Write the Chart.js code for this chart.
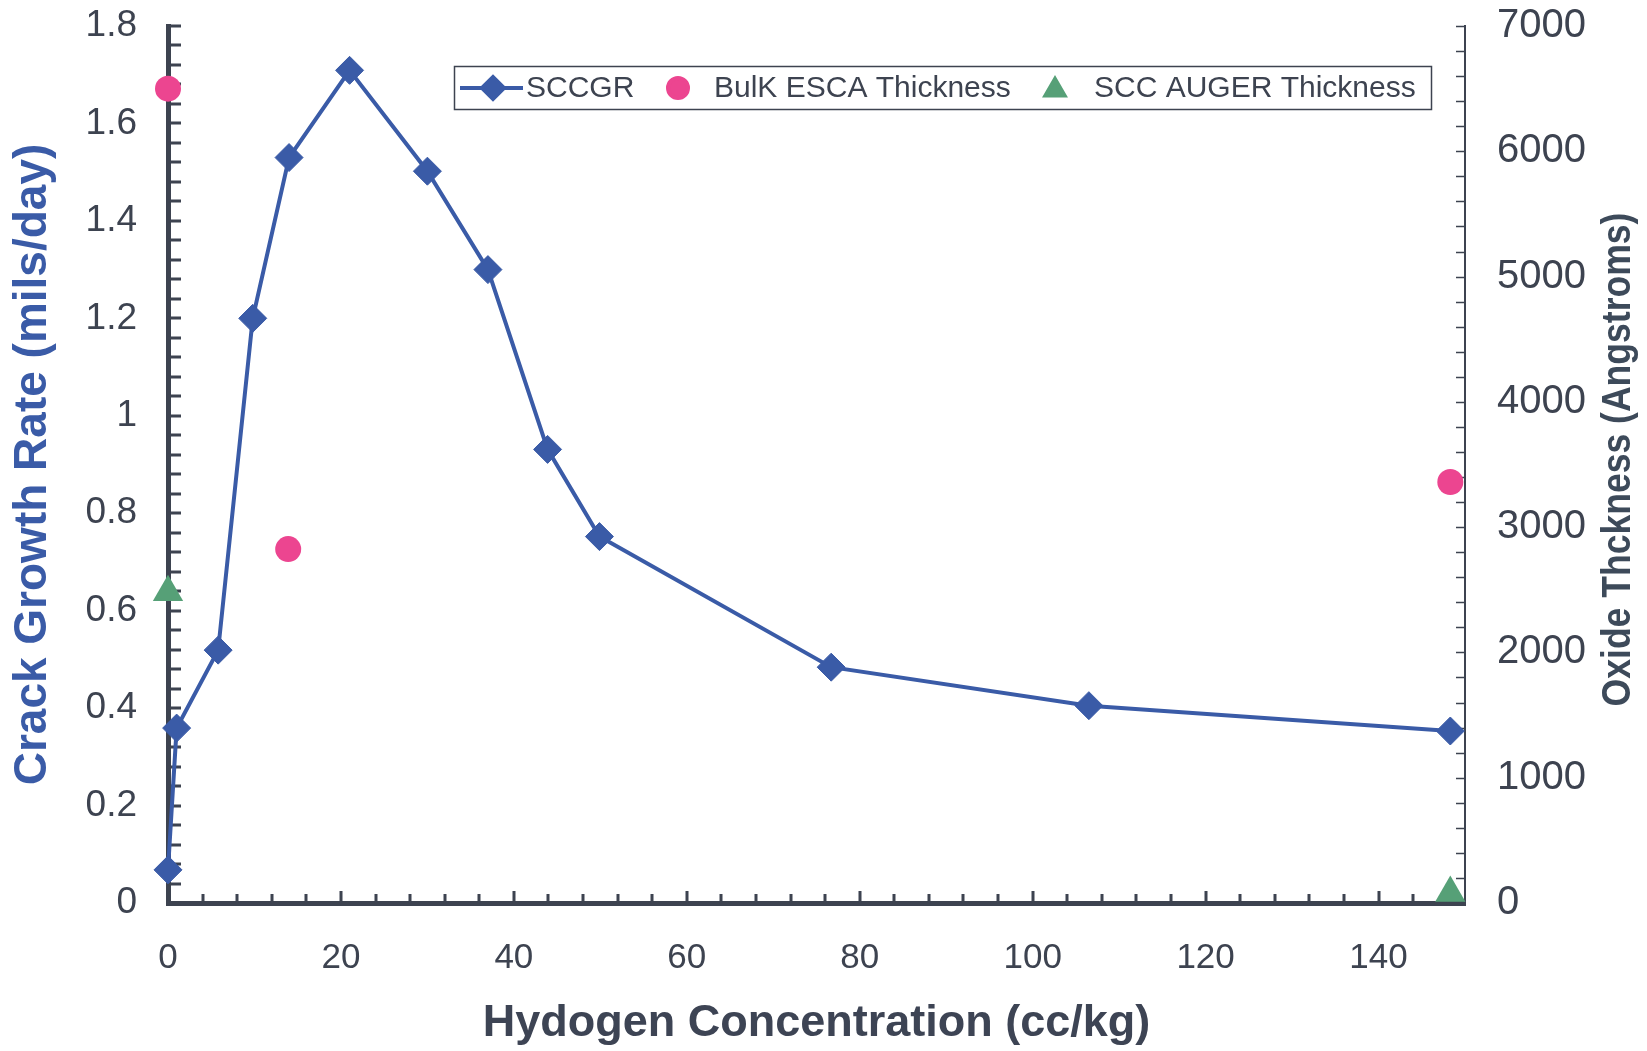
<!DOCTYPE html>
<html>
<head>
<meta charset="utf-8">
<script src="https://cdn.jsdelivr.net/npm/chart.js@4.4.0/dist/chart.umd.min.js"></script>
<style>
  html, body { margin: 0; padding: 0; background: #fff; }
  #wrap { width: 1647px; height: 1051px; }
</style>
</head>
<body>
<div id="wrap"><canvas id="chart" width="1647" height="1051"></canvas></div>
<script>
// hydrogen concentration (cc/kg) and crack growth rate (mils/day)
const hydrogen = [0, 1, 5.8, 9.8, 14, 21, 30, 37, 43.9, 49.9, 76.7, 106.5, 148.3];
const sccgr = [0.068, 0.359, 0.519, 1.20, 1.53, 1.709, 1.502, 1.30, 0.931, 0.752, 0.484, 0.405, 0.353];

// oxide thickness (Angstroms)
const escaH = [0, 13.9, 148.3];
const escaThickness = [6500, 2825, 3360];
const augerH = [0, 148.3];
const augerThickness = [2480, 80];

const xTicks = [0, 20, 40, 60, 80, 100, 120, 140];
const seriesLabels = ['SCCGR', 'BulK ESCA Thickness', 'SCC AUGER Thickness'];
const rightTitle = 'Oxide Thckness (Angstroms)';

const blue = '#3a5ba7';
const pink = '#ec4590';
const green = '#56a077';
const axisColor = '#3d4350';
const font = "'Liberation Sans', Arial, sans-serif";

const pts = (xs, ys) => xs.map((v, i) => ({ x: v, y: ys[i] }));

// inward tick marks, majors and minors
const tickMarks = {
  id: 'tickMarks',
  beforeDatasetsDraw(chart) {
    const { ctx, scales: { x, y, y2 } } = chart;
    ctx.save();
    ctx.strokeStyle = axisColor;
    ctx.lineWidth = 3;
    ctx.beginPath();
    for (let i = 0; i <= 45; i++) {
      const py = Math.round(y.getPixelForValue(i * 0.04));
      ctx.moveTo(x.left, py);
      ctx.lineTo(x.left + 13, py);
    }
    for (let i = 1; i <= 37; i++) {
      const px = Math.round(x.getPixelForValue(i * 4));
      const len = (i * 4) % 20 === 0 ? 12 : 9;
      ctx.moveTo(px, y.bottom);
      ctx.lineTo(px, y.bottom - len);
    }
    ctx.stroke();
    ctx.lineWidth = 1.5;
    ctx.beginPath();
    for (let i = 0; i <= 35; i++) {
      const py = Math.round(y2.getPixelForValue(i * 200)) + 0.5;
      ctx.moveTo(x.right, py);
      ctx.lineTo(x.right - 9, py);
    }
    ctx.stroke();
    ctx.restore();
  },
  afterDraw(chart) {
    // right axis title reads bottom-to-top, narrow bold face
    const { ctx, chartArea } = chart;
    ctx.save();
    ctx.translate(1619, (chartArea.top + chartArea.bottom) / 2 - 5);
    ctx.rotate(-Math.PI / 2);
    ctx.scale(0.867, 1);
    ctx.fillStyle = '#3d4a5a';
    ctx.font = 'bold 41px ' + font;
    ctx.textAlign = 'center';
    ctx.textBaseline = 'middle';
    ctx.fillText(rightTitle, 0, 0);
    ctx.restore();
  }
};

// boxed legend inside the plot
const boxLegend = {
  id: 'boxLegend',
  afterDatasetsDraw(chart) {
    const { ctx } = chart;
    const cy = 88;
    ctx.save();
    ctx.fillStyle = '#fff';
    ctx.fillRect(454, 66, 977, 43);
    ctx.strokeStyle = axisColor;
    ctx.lineWidth = 1.5;
    ctx.strokeRect(454.5, 66.5, 977, 43);

    ctx.strokeStyle = blue;
    ctx.lineWidth = 4;
    ctx.beginPath();
    ctx.moveTo(460, cy);
    ctx.lineTo(523, cy);
    ctx.stroke();
    ctx.fillStyle = blue;
    Chart.helpers.drawPoint(ctx, { pointStyle: 'rectRot', radius: 11, borderWidth: 1 }, 493, cy);

    ctx.fillStyle = pink;
    ctx.strokeStyle = pink;
    Chart.helpers.drawPoint(ctx, { pointStyle: 'circle', radius: 10, borderWidth: 1 }, 678, cy);
    ctx.fillStyle = green;
    ctx.strokeStyle = green;
    Chart.helpers.drawPoint(ctx, { pointStyle: 'triangle', radius: 11, borderWidth: 1 }, 1055, cy + 2);

    ctx.fillStyle = axisColor;
    ctx.font = '30px ' + font;
    ctx.textBaseline = 'middle';
    ctx.fillText(seriesLabels[0], 526, cy + 1);
    ctx.fillText(seriesLabels[1], 714, cy + 1);
    ctx.fillText(seriesLabels[2], 1094, cy + 1);
    ctx.restore();
  }
};

const noVPad = s => { s.paddingTop = 0; s.paddingBottom = 0; };

new Chart(document.getElementById('chart'), {
  type: 'line',
  data: {
    datasets: [{
      label: seriesLabels[0],
      data: pts(hydrogen, sccgr),
      borderColor: blue,
      backgroundColor: blue,
      borderWidth: 4,
      pointStyle: 'rectRot',
      pointRadius: 14,
      pointBorderWidth: 1,
      tension: 0,
      clip: false,
      yAxisID: 'y'
    }, {
      label: seriesLabels[1],
      data: pts(escaH, escaThickness),
      showLine: false,
      borderColor: pink,
      backgroundColor: pink,
      pointStyle: 'circle',
      pointRadius: 13,
      pointBorderWidth: 0,
      clip: false,
      yAxisID: 'y2'
    }, {
      label: seriesLabels[2],
      data: pts(augerH, augerThickness),
      showLine: false,
      borderColor: green,
      backgroundColor: green,
      pointStyle: 'triangle',
      pointRadius: 17.5,
      pointBorderWidth: 0,
      clip: false,
      yAxisID: 'y2'
    }]
  },
  options: {
    responsive: false,
    devicePixelRatio: 1,
    animation: false,
    layout: { padding: { top: 26, left: 0, right: 0, bottom: 0 } },
    plugins: { legend: { display: false }, tooltip: { enabled: false } },
    scales: {
      x: {
        type: 'linear',
        min: 0, max: 150,
        afterBuildTicks: s => { s.ticks = xTicks.map(v => ({ value: v })); },
        afterFit: s => { s.height = 148; },
        ticks: { padding: 34, color: axisColor, font: { family: font, size: 35 } },
        grid: { display: false, drawTicks: false },
        border: { display: true, color: axisColor, width: 5 },
        title: {
          display: true, text: 'Hydogen Concentration (cc/kg)', color: '#3d4454',
          font: { family: font, size: 45, weight: 'bold' }, padding: { top: 0, bottom: 0 }
        }
      },
      y: {
        position: 'left',
        min: 0, max: 1.8,
        afterFit: s => { s.width = 168; noVPad(s); },
        ticks: {
          stepSize: 0.2, padding: 31, color: axisColor,
          font: { family: font, size: 37 },
          callback: v => String(+v.toFixed(1))
        },
        grid: { display: false, drawTicks: false },
        border: { display: true, color: axisColor, width: 5 },
        title: {
          display: true, text: 'Crack Growth Rate (mils/day)', color: blue,
          font: { family: font, size: 46, weight: 'bold' }, padding: { top: 6, bottom: 0 }
        }
      },
      y2: {
        position: 'right',
        min: 0, max: 7000,
        afterFit: s => { s.width = 182; noVPad(s); },
        ticks: {
          stepSize: 1000, padding: 32, color: axisColor,
          font: { family: font, size: 40 },
          callback: v => String(v)
        },
        grid: { display: false, drawTicks: false },
        border: { display: true, color: axisColor, width: 2 },
        title: { display: false }
      }
    }
  },
  plugins: [tickMarks, boxLegend]
});
</script>
</body>
</html>
